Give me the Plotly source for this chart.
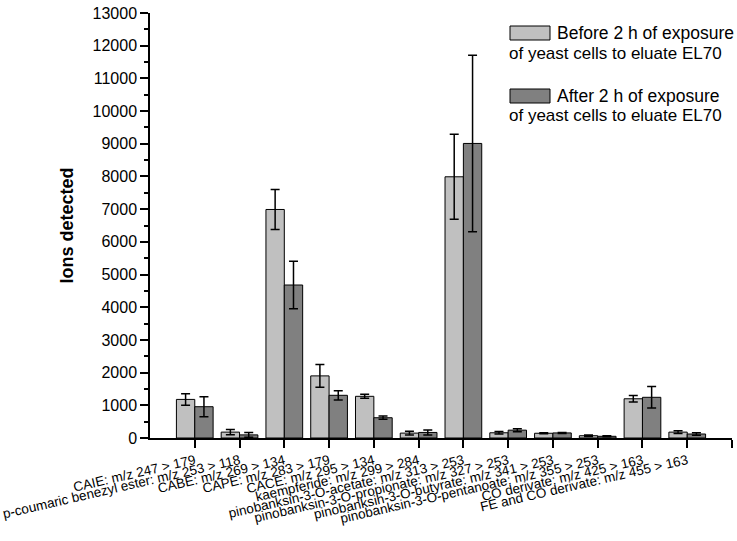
import plotly.graph_objects as go

# compounds (x categories)
labels = [
    "CAIE: m/z 247 > 179",
    "p-coumaric benezyl ester: m/z 253 > 118",
    "CABE: m/z 269 > 134",
    "CAPE: m/z 283 > 179",
    "CACE: m/z 295 > 134",
    "kaempferide: m/z 299 > 284",
    "pinobanksin-3-O-acetate: m/z 313 > 253",
    "pinobanksin-3-O-propionate: m/z 327 > 253",
    "pinobanksin-3-O-butyrate: m/z 341 > 253",
    "pinobanksin-3-O-pentanoate: m/z 355 > 253",
    "CO derivate: m/z 425 > 163",
    "FE and CO derivate: m/z 455 > 163",
]

before_vals = [1180, 180, 6990, 1900, 1275, 150, 7990, 160, 145, 70, 1200, 180]
before_err = [175, 80, 610, 350, 60, 55, 1300, 40, 15, 25, 100, 45]
after_vals = [957, 95, 4680, 1306, 620, 170, 9010, 240, 155, 52, 1245, 122]
after_err = [305, 70, 730, 140, 50, 75, 2700, 45, 15, 15, 330, 35]

before_name = "Before 2 h of exposure"
after_name = "After 2 h of exposure"
second_line = "of yeast cells to eluate EL70"

font_family = "Liberation Sans, Arial, sans-serif"
x_pos = list(range(len(labels)))

fig = go.Figure()
fig.add_trace(go.Bar(
    x=x_pos, y=before_vals, name=before_name,
    marker=dict(color="#c0c0c0", line=dict(color="black", width=1)),
    error_y=dict(type="data", array=before_err, color="black", thickness=1.5, width=4.5),
))
fig.add_trace(go.Bar(
    x=x_pos, y=after_vals, name=after_name,
    marker=dict(color="#808080", line=dict(color="black", width=1)),
    error_y=dict(type="data", array=after_err, color="black", thickness=1.5, width=4.5),
))

# legend drawn by hand so the second line sits under the swatch, like the original
W, H, L, T = 582, 425, 150, 13
def px(x):
    return (x - L) / W
def py(y):
    return (T + H - y) / H

shapes = []
annotations = []
for fill, top, name in [("#c0c0c0", 26, before_name), ("#808080", 89, after_name)]:
    shapes.append(dict(type="rect", xref="paper", yref="paper",
                       x0=px(510), x1=px(550), y0=py(top + 14), y1=py(top),
                       fillcolor=fill, line=dict(color="black", width=1)))
    annotations.append(dict(xref="paper", yref="paper", x=px(555), y=py(top + 7),
                            text=name, showarrow=False, xanchor="left", yanchor="middle",
                            font=dict(size=17.5, color="black", family=font_family)))
    annotations.append(dict(xref="paper", yref="paper", x=px(507), y=py(top + 27),
                            text=second_line, showarrow=False, xanchor="left", yanchor="middle",
                            font=dict(size=17, color="black", family=font_family)))

fig.update_layout(
    width=737, height=541,
    margin=dict(l=L, r=737 - L - W, t=T, b=541 - T - H),
    barmode="group", bargap=0.18, bargroupgap=0,
    plot_bgcolor="white", paper_bgcolor="white",
    showlegend=False,
    font=dict(family=font_family, color="black"),
    shapes=shapes, annotations=annotations,
)
fig.update_xaxes(
    range=[-1, 12], tickmode="array", tickvals=list(range(13)), ticktext=labels + [""],
    tickangle=-13, ticks="outside", ticklen=8, tickwidth=1.5, tickcolor="black",
    showline=True, linecolor="black", linewidth=1.5, showgrid=False, zeroline=False,
    tickfont=dict(size=13.5), automargin=False,
)
fig.update_yaxes(
    range=[0, 13000], dtick=1000, tickformat="d", ticks="outside", ticklen=8, tickwidth=1.5,
    tickcolor="black",
    minor=dict(dtick=500, ticks="outside", ticklen=4, tickwidth=1.5, tickcolor="black"),
    showline=True, linecolor="black", linewidth=1.5, showgrid=False, zeroline=False,
    tickfont=dict(size=16), automargin=False,
    title=dict(text="<b>Ions detected</b>", font=dict(size=18), standoff=14),
)

# drop the browser's default page margin so the figure sits at the window corner
fig.write_html("out.html", config={"displayModeBar": False},
               post_script="document.body.style.margin = '0';")
